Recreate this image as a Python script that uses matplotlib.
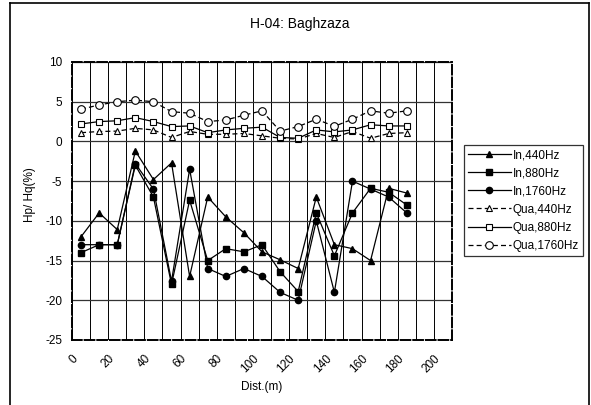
import matplotlib
matplotlib.use("Agg")
import matplotlib.pyplot as plt
from matplotlib.lines import Line2D

plt.rcParams['font.family'] = ['Liberation Sans', 'DejaVu Sans']

dist = [5, 15, 25, 35, 45, 55, 65, 75, 85, 95, 105, 115, 125, 135, 145, 155, 165, 175, 185]
in_440 = [-12.0, -9.0, -11.1, -1.2, -4.8, -2.7, -17.0, -7.0, -9.5, -11.5, -13.9, -14.9, -16.0, -7.0, -13.0, -13.5, -15.0, -5.9, -6.5]
in_880 = [-14.0, -13.0, -13.0, -3.0, -7.0, -18.0, -7.4, -15.0, -13.5, -13.9, -13.0, -16.4, -18.9, -9.0, -14.4, -9.0, -5.9, -6.4, -8.0]
in_1760 = [-13.0, -13.0, -13.0, -2.8, -6.0, -17.6, -3.5, -16.0, -17.0, -16.0, -17.0, -19.0, -20.0, -10.0, -19.0, -5.0, -6.0, -7.0, -9.0]
qua_440 = [1.1, 1.25, 1.3, 1.65, 1.45, 0.5, 1.25, 0.9, 0.9, 1.0, 0.7, 0.4, 0.3, 1.0, 0.5, 1.25, 0.4, 1.0, 1.1]
qua_880 = [2.2, 2.5, 2.6, 3.0, 2.5, 1.87, 1.95, 1.1, 1.45, 1.65, 1.8, 0.5, 0.4, 1.45, 1.2, 1.45, 2.1, 1.95, 1.95]
qua_1760 = [4.05, 4.6, 5.0, 5.2, 5.0, 3.75, 3.55, 2.5, 2.7, 3.3, 3.85, 1.3, 1.87, 2.8, 1.9, 2.8, 3.85, 3.55, 3.85]

labels = ['In,440Hz', 'In,880Hz', 'In,1760Hz', 'Qua,440Hz', 'Qua,880Hz', 'Qua,1760Hz']
title = 'H-04: Baghzaza'
xlabel = 'Dist.(m)'
ylabel = 'Hp/ Hq(%)'
xticks = list(range(0, 201, 20))
yticks = list(range(-25, 11, 5))

W, H = 591, 405
fig = plt.figure(figsize=(W / 100, H / 100), dpi=100)
fig.patch.set_facecolor('white')

# axes placement in pixels
x0, x1 = 72, 452
y0, y1 = 62, 340
ax = fig.add_axes([x0 / W, 1 - y1 / H, (x1 - x0) / W, (y1 - y0) / H])

ax.set_xlim(0, 210)
ax.set_ylim(-25, 10)
ax.set_xticks(xticks)
ax.set_xticks(range(0, 211, 10), minor=True)
ax.set_yticks(yticks)
ax.set_xticklabels([str(t) for t in xticks], rotation=45, ha='right', va='top',
                   rotation_mode='anchor', fontsize=8.5)
ax.set_yticklabels([str(t) for t in yticks], fontsize=8.5)
ax.tick_params(axis='both', which='both', length=0)
ax.tick_params(axis='x', pad=9)
ax.tick_params(axis='y', pad=7)

ax.grid(True, which='both', axis='x', color='black', linewidth=0.7)
ax.grid(True, which='major', axis='y', color='#333333', linewidth=0.9)
ax.set_axisbelow(True)

for s in ax.spines.values():
    s.set_color('black')
    s.set_linewidth(1.4)
    s.set_linestyle((0, (5, 1.5)))

series = [
    (in_440, dict(marker='^', ms=5.0, mfc='black', mec='black', ls='-')),
    (in_880, dict(marker='s', ms=4.5, mfc='black', mec='black', ls='-')),
    (in_1760, dict(marker='o', ms=4.5, mfc='black', mec='black', ls='-')),
    (qua_440, dict(marker='^', ms=5.0, mfc='white', mec='black', ls=(0, (4, 2.5)), mew=0.8)),
    (qua_880, dict(marker='s', ms=5.0, mfc='white', mec='black', ls='-', mew=0.8)),
    (qua_1760, dict(marker='o', ms=5.5, mfc='white', mec='black', ls=(0, (4, 2.5)), mew=0.8)),
]
handles = []
for (vals, st), lab in zip(series, labels):
    ln, = ax.plot(dist, vals, color='black', linewidth=0.9, label=lab, **st)
    handles.append(ln)

leg = fig.legend(handles=handles, labels=labels, loc='upper left',
                 bbox_to_anchor=(464 / W, 1 - 145 / H), fontsize=8.5,
                 frameon=True, fancybox=False, edgecolor='black',
                 handlelength=3.6, handletextpad=0.2, labelspacing=0.52,
                 borderpad=0.35, borderaxespad=0)
leg.get_frame().set_linewidth(0.9)

fig.text(300 / W, 1 - 24 / H, title, ha='center', va='center', fontsize=10)
fig.text((x0 + x1) / 2 / W, 1 - 387 / H, xlabel, ha='center', va='center', fontsize=8.5)
fig.text(30 / W, 1 - 195 / H, ylabel, ha='center', va='center', rotation=90, fontsize=8.5)

# outer chart border (top, left, right)
for xs, ys in [([10, 589], [3, 3]), ([10, 10], [3, 405]), ([589, 589], [3, 405])]:
    fig.add_artist(Line2D([x / W for x in xs], [1 - y / H for y in ys],
                          color='black', linewidth=1.2, transform=fig.transFigure))

fig.savefig('out.png', dpi=100, facecolor='white')
